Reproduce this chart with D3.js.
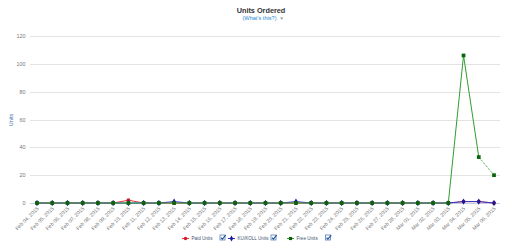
<!DOCTYPE html>
<html><head><meta charset="utf-8">
<script src="https://cdn.jsdelivr.net/npm/d3@7/dist/d3.min.js"></script>
<style>body{margin:0;background:#fff}svg{display:block;font-family:"Liberation Sans",Arial,sans-serif}</style>
</head><body><svg id="c" width="520" height="249"></svg>
<script>
const dates = ["Feb 04, 2015","Feb 05, 2015","Feb 06, 2015","Feb 07, 2015","Feb 08, 2015","Feb 09, 2015","Feb 10, 2015","Feb 11, 2015","Feb 12, 2015","Feb 13, 2015","Feb 14, 2015","Feb 15, 2015","Feb 16, 2015","Feb 17, 2015","Feb 18, 2015","Feb 19, 2015","Feb 20, 2015","Feb 21, 2015","Feb 22, 2015","Feb 23, 2015","Feb 24, 2015","Feb 25, 2015","Feb 26, 2015","Feb 27, 2015","Feb 28, 2015","Mar 01, 2015","Mar 02, 2015","Mar 03, 2015","Mar 04, 2015","Mar 05, 2015","Mar 06, 2015"];
const paidUnits = [0,0,0,0,0,0,2,0,0,0,0,0,0,0,0,0,0,0,0,0,0,0,0,0,0,0,0,0,1,1,0];
const kuUnits   = [0,0,0,0,0,0,0,0,0,1,0,0,0,0,0,0,0,1,0,0,0,0,0,0,0,0,0,0,1,1,0];
const freeUnits = [0,0,0,0,0,0,0,0,0,0,0,0,0,0,0,0,0,0,0,0,0,0,0,0,0,0,0,0,106,33,20];
const yTicks = [0,20,40,60,80,100,120];
const seriesNames = ["Paid Units","KU/KOLL Units","Free Units"];

const svg = d3.select("#c");
const x = d3.scalePoint().domain(dates).range([37,494]);
const y = d3.scaleLinear().domain([0,120]).range([203,36]);

// title
svg.append("text").attr("x",261).attr("y",12.5).attr("text-anchor","middle")
  .attr("font-size",7.3).attr("font-weight","bold").attr("fill","#333").text("Units Ordered");
svg.append("text").attr("x",259.5).attr("y",20.3).attr("text-anchor","middle")
  .attr("font-size",5.6).attr("fill","#2a8ad4").text("(What's this?)");
svg.append("path").attr("d","M280,17.5 l3.4,0 l-1.7,2.2z").attr("fill","#999");

// grid
svg.append("g").selectAll("line").data(yTicks.filter(d=>d>0)).join("line")
  .attr("x1",30).attr("x2",500).attr("y1",d=>Math.round(y(d))+0.5).attr("y2",d=>Math.round(y(d))+0.5)
  .attr("stroke","#e3e3e3").attr("stroke-width",1);
svg.append("line").attr("x1",30).attr("x2",500).attr("y1",203.5).attr("y2",203.5)
  .attr("stroke","#c0d0e0");
svg.append("g").selectAll("text").data(yTicks).join("text")
  .attr("x",25.5).attr("y",d=>y(d)+2).attr("text-anchor","end")
  .attr("font-size",5.4).attr("fill","#777").text(d=>d);
svg.append("text").attr("transform","translate(13,120) rotate(-90)").attr("text-anchor","middle")
  .attr("font-size",5.5).attr("fill","#4572a7").text("Units");

// x labels
svg.append("g").selectAll("text").data(dates).join("text")
  .attr("transform",d=>`translate(${x(d)+2},${209}) rotate(-45)`)
  .attr("text-anchor","end").attr("font-size",5.2).attr("fill","#777").text(d=>d);

const line = d3.line().x((d,i)=>x(dates[i])).y(d=>y(d));
function drawSeries(vals,color,mcolor,sym){
  svg.append("path").datum(vals).attr("d",line).attr("fill","none").attr("stroke",color).attr("stroke-width",1);
  const s = d3.symbol().type(sym).size(sym===d3.symbolSquare?14:12);
  svg.append("g").selectAll("path").data(vals).join("path")
    .attr("transform",(d,i)=>`translate(${x(dates[i])},${y(d)})`).attr("d",s).attr("fill",mcolor);
}
drawSeries(paidUnits,"#e8333a","#d0202a",d3.symbolCircle);
drawSeries(kuUnits,"#3434c8","#1a1a99",d3.symbolDiamond);
// free units: last segment dotted
const fl = freeUnits.slice(0,30);
svg.append("path").datum(fl).attr("d",line).attr("fill","none").attr("stroke","#2f9e2f").attr("stroke-width",1);
svg.append("line").attr("x1",x(dates[29])).attr("y1",y(freeUnits[29])).attr("x2",x(dates[30])).attr("y2",y(freeUnits[30]))
  .attr("stroke","#2f9e2f").attr("stroke-width",1).attr("stroke-dasharray","1,1");
svg.append("g").selectAll("path").data(freeUnits).join("path")
  .attr("transform",(d,i)=>`translate(${x(dates[i])},${y(d)})`).attr("d",d3.symbol().type(d3.symbolSquare).size(14)).attr("fill","#0b640b");

// legend
const leg = [{n:seriesNames[0],c:"#e8333a",m:"#d0202a",s:d3.symbolCircle,x:182,cb:220},
             {n:seriesNames[1],c:"#3434c8",m:"#1a1a99",s:d3.symbolDiamond,x:228,cb:271},
             {n:seriesNames[2],c:"#2f9e2f",m:"#0b640b",s:d3.symbolSquare,x:287,cb:325.5}];
const lg = svg.append("g");
leg.forEach(l=>{
  lg.append("line").attr("x1",l.x).attr("x2",l.x+7).attr("y1",238.5).attr("y2",238.5).attr("stroke",l.c);
  lg.append("path").attr("transform",`translate(${l.x+3.5},238.5)`).attr("d",d3.symbol().type(l.s).size(10)).attr("fill",l.m);
  lg.append("text").attr("x",l.x+9.5).attr("y",240.3).attr("font-size",4.6).attr("fill","#3e576f").text(l.n);
  lg.append("rect").attr("x",l.cb).attr("y",235).attr("width",5).attr("height",5).attr("fill","#fff").attr("stroke","#5a7fb0").attr("stroke-width",0.8);
  lg.append("path").attr("d",`M${l.cb+1},${237.6} l1.4,1.5 l3.3,-4`).attr("fill","none").attr("stroke","#1f4f9f").attr("stroke-width",1.1);
});
</script></body></html>
